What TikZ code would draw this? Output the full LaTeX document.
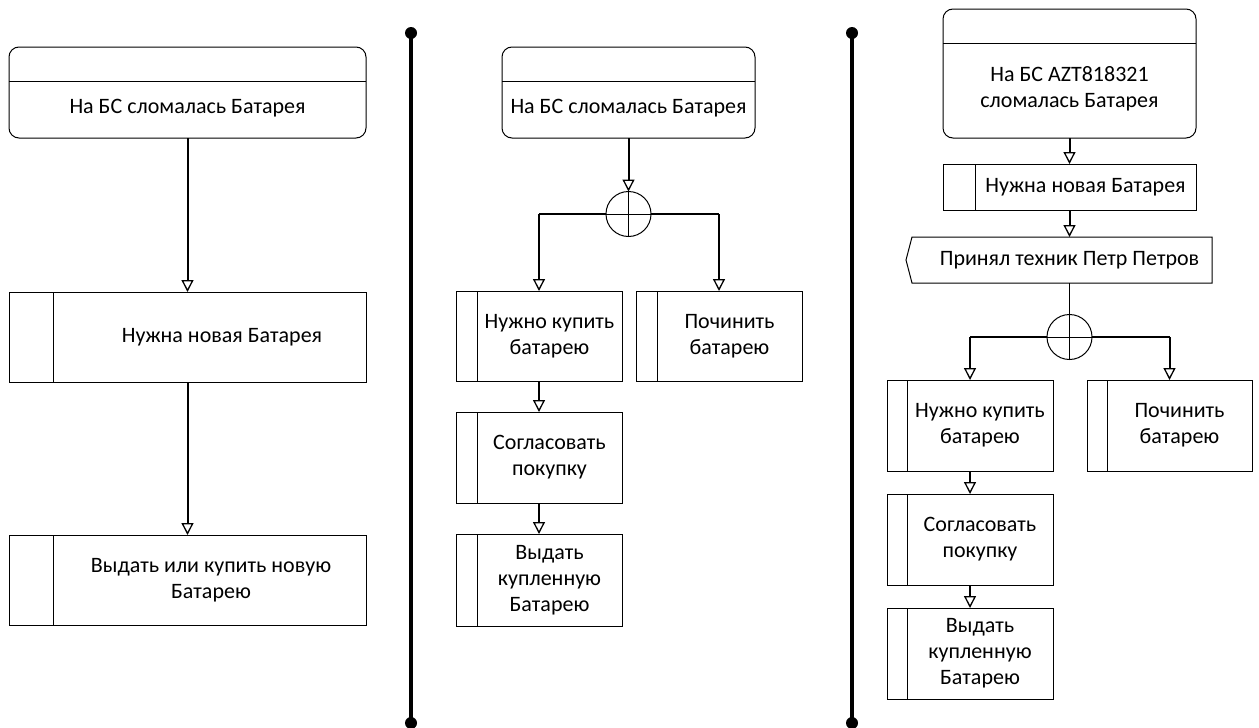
\documentclass[tikz,border=0pt]{standalone}
\usepackage{fontspec}
\setmainfont{Carlito}
\usetikzlibrary{arrows.meta,calc}

\begin{document}
\begin{tikzpicture}[x=1pt,y=-1pt,
  every node/.style={inner sep=0pt,outer sep=0pt},
  txt/.style={align=center,font=\fontsize{22}{26}\selectfont},
  evbox/.style={draw,line width=1pt,rounded corners=10pt,
    path picture={\draw[line width=1pt]
      ([yshift=-#1]path picture bounding box.north west) --
      ([yshift=-#1]path picture bounding box.north east);}},
  procbox/.style={draw,line width=1pt,
    path picture={\draw[line width=1pt]
      ([xshift=#1]path picture bounding box.north west) --
      ([xshift=#1]path picture bounding box.south west);}},
  gate/.style={draw,line width=1pt,circle,minimum size=45pt,
    path picture={\draw[line width=0.9pt]
      (path picture bounding box.north) -- (path picture bounding box.south)
      (path picture bounding box.west) -- (path picture bounding box.east);}},
  flow/.style={line width=2pt,
    -{Triangle[length=12pt,width=12pt,fill=white,line width=1.3pt]}},
  link/.style={line width=2pt},
  thin/.style={line width=1pt},
  lane/.style={line width=4pt},
  dot/.style={circle,fill=black,minimum size=12pt}
]
\useasboundingbox (0,0) rectangle (1259,728);

% ---------- left column ----------
\node[evbox=34pt,minimum width=357pt,minimum height=91pt] (e1) at (187.5,92.5) {};
\node[txt] (e1t) at (187.5,108) {На БС сломалась Батарея};
\node[procbox=44pt,minimum width=357pt,minimum height=90pt] (p1) at (187.5,337) {};
\node[txt] (p1t) at (222,337) {Нужна новая Батарея};
\node[procbox=44pt,minimum width=357pt,minimum height=90pt] (p2) at (187.5,580) {};
\node[txt] (p2t) at (211,580) {Выдать или купить новую\\Батарею};
\draw[flow] (e1.south) -- (p1.north);
\draw[flow] (p1.south) -- (p2.north);

% ---------- separators ----------
\node[dot] (d1a) at (411,33) {};
\node[dot] (d1b) at (411,723) {};
\draw[lane] (d1a.center) -- (d1b.center);
\node[dot] (d2a) at (852,33) {};
\node[dot] (d2b) at (852,723) {};
\draw[lane] (d2a.center) -- (d2b.center);

% ---------- middle column ----------
\node[evbox=34pt,minimum width=253pt,minimum height=91pt] (e2) at (628.5,92.5) {};
\node[txt] (e2t) at (628.5,108) {На БС сломалась Батарея};
\node[gate] (g1) at (628.5,214) {};
\node[procbox=21pt,minimum width=166pt,minimum height=90pt] (p3) at (539,336) {};
\node[txt] (p3t) at (549.5,336) {Нужно купить\\батарею};
\node[procbox=21pt,minimum width=166pt,minimum height=90pt] (p4) at (719,336) {};
\node[txt] (p4t) at (729.5,336) {Починить\\батарею};
\node[procbox=21pt,minimum width=166pt,minimum height=91pt] (p5) at (539,457.5) {};
\node[txt] (p5t) at (549.5,457.5) {Согласовать\\покупку};
\node[procbox=21pt,minimum width=166pt,minimum height=92pt] (p6) at (539,580) {};
\node[txt] (p6t) at (549.5,580) {Выдать\\купленную\\Батарею};
\draw[flow] (e2.south) -- (g1.north);
\draw[link] (g1.west) -- (g1.west -| p3.north);
\draw[flow] (g1.west -| p3.north) -- (p3.north);
\draw[link] (g1.east) -- (g1.east -| p4.north);
\draw[flow] (g1.east -| p4.north) -- (p4.north);
\draw[flow] (p3.south) -- (p5.north);
\draw[flow] (p5.south) -- (p6.north);

% ---------- right column ----------
\node[evbox=34pt,minimum width=253pt,minimum height=129pt] (e3) at (1069.5,73.5) {};
\node[txt] (e3t) at (1069.5,89) {На БС AZT818321\\сломалась Батарея};
\node[procbox=32pt,minimum width=253pt,minimum height=46pt] (p7) at (1069.5,187) {};
\node[txt] (p7t) at (1085.5,187) {Нужна новая Батарея};
\node[minimum width=300pt,minimum height=46pt] (pt) at (1062,260) {};
\draw[thin] (pt.north west) -- (pt.north east) -- (pt.south east)
  -- (pt.south west) -- ([xshift=-6pt]pt.west) -- cycle;
\node[txt] (ptt) at (1069.5,260) {Принял техник Петр Петров};
\node[gate] (g2) at (1069.5,337) {};
\node[procbox=20pt,minimum width=166pt,minimum height=91pt] (p8) at (970,425.5) {};
\node[txt] (p8t) at (980,425.5) {Нужно купить\\батарею};
\node[procbox=20pt,minimum width=165pt,minimum height=91pt] (p9) at (1169.5,425.5) {};
\node[txt] (p9t) at (1179.5,425.5) {Починить\\батарею};
\node[procbox=20pt,minimum width=166pt,minimum height=91pt] (p10) at (970,539.5) {};
\node[txt] (p10t) at (980,539.5) {Согласовать\\покупку};
\node[procbox=20pt,minimum width=166pt,minimum height=91pt] (p11) at (970,653.5) {};
\node[txt] (p11t) at (980,653.5) {Выдать\\купленную\\Батарею};
\draw[flow] (e3.south) -- (p7.north);
\draw[flow] (p7.south) -- (p7.south |- pt.north);
\draw[thin] (g2.north |- pt.south) -- (g2.north);
\draw[link] (g2.west) -- (g2.west -| p8.north);
\draw[flow] (g2.west -| p8.north) -- (p8.north);
\draw[link] (g2.east) -- (g2.east -| p9.north);
\draw[flow] (g2.east -| p9.north) -- (p9.north);
\draw[flow] (p8.south) -- (p10.north);
\draw[flow] (p10.south) -- (p11.north);
\end{tikzpicture}
\end{document}
